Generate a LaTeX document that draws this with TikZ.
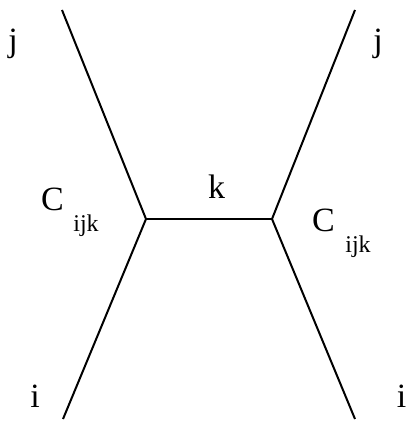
\documentclass[tikz,border=0pt]{standalone}
\usepackage{fontspec}
\setmainfont{Liberation Serif}
\usetikzlibrary{positioning}

\begin{document}
\begin{tikzpicture}[x=1pt,y=-1pt,
  leg/.style={line width=2pt},
  lbl/.style={font=\fontsize{34}{40}\selectfont,inner sep=0pt,anchor=base},
  sub/.style={font=\fontsize{24}{28}\selectfont,inner sep=0pt,anchor=base}]
  \useasboundingbox (0,0) rectangle (408,425);
  % vertices and free ends
  \coordinate (VL) at (146,219);
  \coordinate (VR) at (272,219);
  \coordinate (JL) at (62,10);
  \coordinate (IL) at (63,419);
  \coordinate (JR) at (355,10);
  \coordinate (IR) at (355,419);
  \draw[leg] (JL) -- (VL) -- (IL);
  \draw[leg] (JR) -- (VR) -- (IR);
  \draw[leg] (VL) -- (VR);
  % labels
  \node[lbl] (jl) at (13,52) {j};
  \node[lbl] (jr) at (378,52) {j};
  \node[lbl] (il) at (35,407) {i};
  \node[lbl] (ir) at (401.5,407) {i};
  \node[lbl] (k) at (216.5,198) {k};
  \node[lbl] (cl) at (52.5,210) {C};
  \node[sub] (sl) at (86,231) {ijk};
  \node[lbl] (cr) at (323.5,231) {C};
  \node[sub] (sr) at (358,252) {ijk};
\end{tikzpicture}
\end{document}
